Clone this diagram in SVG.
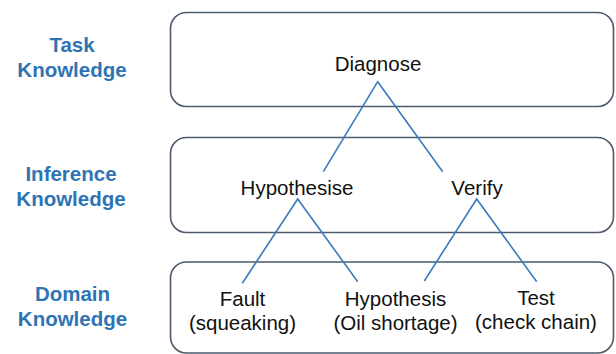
<svg xmlns="http://www.w3.org/2000/svg" width="616" height="354" viewBox="0 0 616 354">
<style>
.box{fill:#fff;stroke:#4b5a6c;stroke-width:1.6}
.lbl{font-family:"Liberation Sans",Arial,sans-serif;font-weight:bold;font-size:20.5px;fill:#2e74b5;text-anchor:middle}
.t{font-family:"Liberation Sans",Arial,sans-serif;font-size:20.5px;fill:#111;text-anchor:middle}
.c{stroke:#3a7abd;stroke-width:1.6;fill:none}
</style>
<rect width="616" height="354" fill="#fff"/>
<g id="layer-task">
<rect class="box" x="170.5" y="12.5" width="443" height="94" rx="16"/>
<text class="lbl" x="72" y="52">Task</text>
<text class="lbl" x="72" y="77">Knowledge</text>
</g>
<g id="layer-inference">
<rect class="box" x="170.5" y="137.5" width="443" height="95" rx="16"/>
<text class="lbl" x="71" y="181">Inference</text>
<text class="lbl" x="71" y="205.5">Knowledge</text>
</g>
<g id="layer-domain">
<rect class="box" x="170.5" y="262" width="443" height="91" rx="16"/>
<text class="lbl" x="72.5" y="301">Domain</text>
<text class="lbl" x="72.5" y="326">Knowledge</text>
</g>
<g id="node-diagnose"><text class="t" x="378" y="70.5">Diagnose</text></g>
<g id="node-hypothesise"><text class="t" x="297" y="194.5">Hypothesise</text></g>
<g id="node-verify"><text class="t" x="477" y="194.5">Verify</text></g>
<g id="node-fault"><text class="t" x="242.5" y="306">Fault</text><text class="t" x="242.5" y="330">(squeaking)</text></g>
<g id="node-hypothesis"><text class="t" x="395.5" y="306">Hypothesis</text><text class="t" x="395.5" y="330">(Oil shortage)</text></g>
<g id="node-test"><text class="t" x="536" y="304.5">Test</text><text class="t" x="536" y="328.5">(check chain)</text></g>
<g id="connectors">
<path class="c" d="M323.3 171.7 L377.7 81.7 L442.7 171.7"/>
<path class="c" d="M242.3 283.3 L297.7 199 L357.7 281.7"/>
<path class="c" d="M424.3 281 L476.7 199 L536.7 281.7"/>
</g>
</svg>
